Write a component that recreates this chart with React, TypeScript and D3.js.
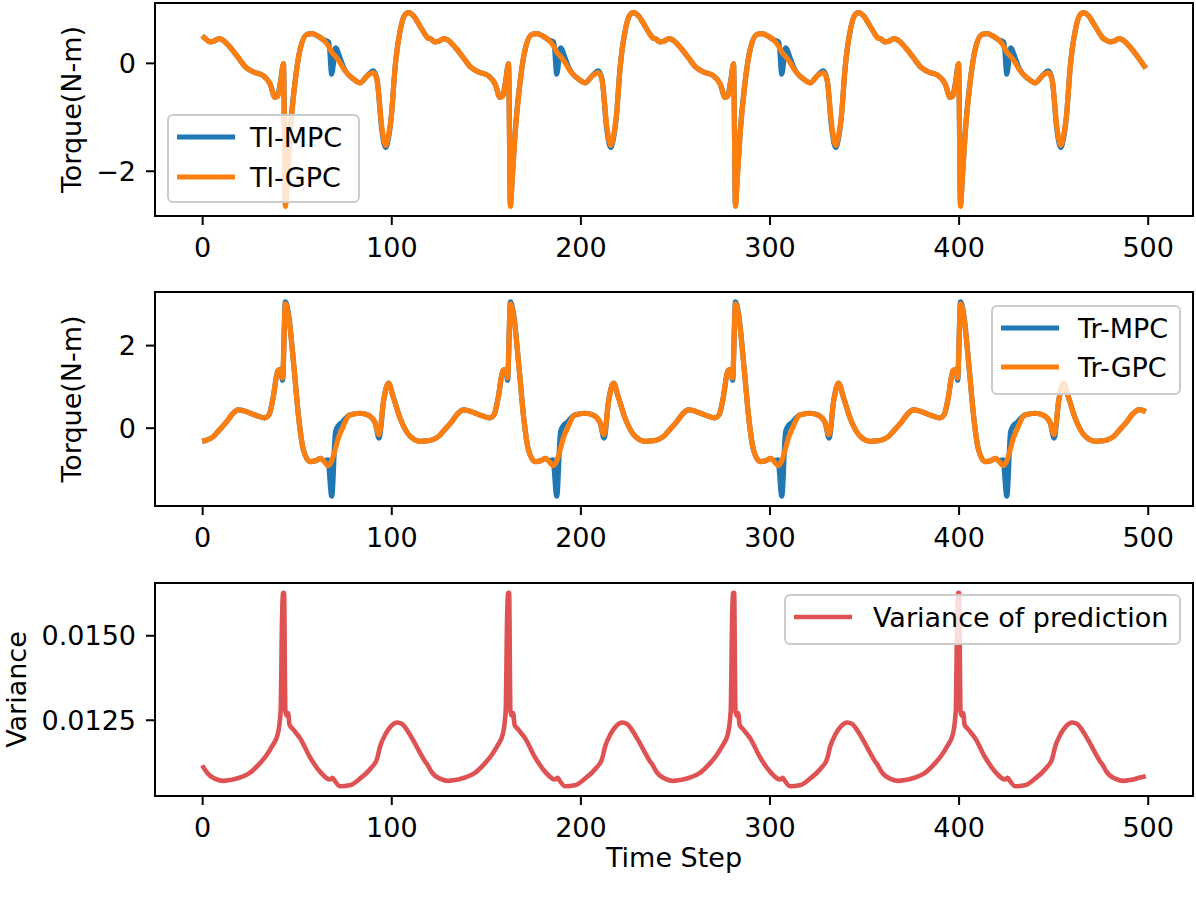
import React, { useEffect, useRef } from 'react'
import * as d3 from 'd3'

// Time steps shared by the two top-panel series
const tlSteps = [
  0, 2, 4, 6, 9, 11, 15, 19, 23, 28, 32, 36, 38.5, 40, 41.5, 43, 44, 45, 46.5, 49, 52, 55.5, 58, 61, 64, 67, 68.5, 70.5, 73, 75, 80, 83.5, 87, 90.5, 92.5, 95, 97, 98.5, 100, 102, 105, 107, 109, 112, 114, 118,
  119, 121, 123, 125, 128, 130, 134, 138, 142, 147, 151, 155, 157.5, 159, 160.5, 162, 163, 164, 165.5, 168, 171, 174.5, 177, 180, 183, 186, 187.5, 189.5, 192, 194, 199, 202.5, 206, 209.5, 211.5, 214, 216, 217.5, 219, 221, 224, 226, 228, 231, 233, 237,
  238, 240, 242, 244, 247, 249, 253, 257, 261, 266, 270, 274, 276.5, 278, 279.5, 281, 282, 283, 284.5, 287, 290, 293.5, 296, 299, 302, 305, 306.5, 308.5, 311, 313, 318, 321.5, 325, 328.5, 330.5, 333, 335, 336.5, 338, 340, 343, 345, 347, 350, 352, 356,
  357, 359, 361, 363, 366, 368, 372, 376, 380, 385, 389, 393, 395.5, 397, 398.5, 400, 401, 402, 403.5, 406, 409, 412.5, 415, 418, 421, 424, 425.5, 427.5, 430, 432, 437, 440.5, 444, 447.5, 449.5, 452, 454, 455.5, 457, 459, 462, 464, 466, 469, 471, 475,
  476, 478, 480, 482, 485, 487, 491, 495, 499,
]

const tlMpc = [
  0.50, 0.44, 0.39, 0.40, 0.45, 0.42, 0.28, 0.10, -0.08, -0.18, -0.23, -0.40, -0.64, -0.60, -0.33, -0.02, -2.62, -2.10, -1.28, -0.38, 0.28, 0.53, 0.54, 0.50, 0.43, 0.38, -0.21, 0.28, 0.08, -0.10, -0.30, -0.37, -0.25, -0.15, -0.32, -1.25, -1.57, -1.40, -1.00, -0.09, 0.65, 0.88, 0.93, 0.86, 0.75, 0.52,
  0.47, 0.44, 0.39, 0.40, 0.45, 0.42, 0.28, 0.10, -0.08, -0.18, -0.23, -0.40, -0.64, -0.60, -0.33, -0.02, -2.62, -2.10, -1.28, -0.38, 0.28, 0.53, 0.54, 0.50, 0.43, 0.38, -0.21, 0.28, 0.08, -0.10, -0.30, -0.37, -0.25, -0.15, -0.32, -1.25, -1.57, -1.40, -1.00, -0.09, 0.65, 0.88, 0.93, 0.86, 0.75, 0.52,
  0.47, 0.44, 0.39, 0.40, 0.45, 0.42, 0.28, 0.10, -0.08, -0.18, -0.23, -0.40, -0.64, -0.60, -0.33, -0.02, -2.62, -2.10, -1.28, -0.38, 0.28, 0.53, 0.54, 0.50, 0.43, 0.38, -0.21, 0.28, 0.08, -0.10, -0.30, -0.37, -0.25, -0.15, -0.32, -1.25, -1.57, -1.40, -1.00, -0.09, 0.65, 0.88, 0.93, 0.86, 0.75, 0.52,
  0.47, 0.44, 0.39, 0.40, 0.45, 0.42, 0.28, 0.10, -0.08, -0.18, -0.23, -0.40, -0.64, -0.60, -0.33, -0.02, -2.62, -2.10, -1.28, -0.38, 0.28, 0.53, 0.54, 0.50, 0.43, 0.38, -0.21, 0.28, 0.08, -0.10, -0.30, -0.37, -0.25, -0.15, -0.32, -1.25, -1.57, -1.40, -1.00, -0.09, 0.65, 0.88, 0.93, 0.86, 0.75, 0.52,
  0.47, 0.42, 0.39, 0.40, 0.45, 0.42, 0.28, 0.10, -0.10,
]

const tlGpc = [
  0.50, 0.44, 0.39, 0.40, 0.45, 0.42, 0.28, 0.10, -0.08, -0.18, -0.23, -0.40, -0.64, -0.62, -0.35, -0.02, -2.66, -2.15, -1.31, -0.39, 0.28, 0.53, 0.54, 0.50, 0.43, 0.30, 0.20, 0.12, 0.00, -0.12, -0.30, -0.37, -0.25, -0.18, -0.33, -1.19, -1.53, -1.35, -1.00, -0.09, 0.65, 0.88, 0.93, 0.86, 0.75, 0.52,
  0.47, 0.44, 0.39, 0.40, 0.45, 0.42, 0.28, 0.10, -0.08, -0.18, -0.23, -0.40, -0.64, -0.62, -0.35, -0.02, -2.66, -2.15, -1.31, -0.39, 0.28, 0.53, 0.54, 0.50, 0.43, 0.30, 0.20, 0.12, 0.00, -0.12, -0.30, -0.37, -0.25, -0.18, -0.33, -1.19, -1.53, -1.35, -1.00, -0.09, 0.65, 0.88, 0.93, 0.86, 0.75, 0.52,
  0.47, 0.44, 0.39, 0.40, 0.45, 0.42, 0.28, 0.10, -0.08, -0.18, -0.23, -0.40, -0.64, -0.62, -0.35, -0.02, -2.66, -2.15, -1.31, -0.39, 0.28, 0.53, 0.54, 0.50, 0.43, 0.30, 0.20, 0.12, 0.00, -0.12, -0.30, -0.37, -0.25, -0.18, -0.33, -1.19, -1.53, -1.35, -1.00, -0.09, 0.65, 0.88, 0.93, 0.86, 0.75, 0.52,
  0.47, 0.44, 0.39, 0.40, 0.45, 0.42, 0.28, 0.10, -0.08, -0.18, -0.23, -0.40, -0.64, -0.62, -0.35, -0.02, -2.66, -2.15, -1.31, -0.39, 0.28, 0.53, 0.54, 0.50, 0.43, 0.30, 0.20, 0.12, 0.00, -0.12, -0.30, -0.37, -0.25, -0.18, -0.33, -1.19, -1.53, -1.35, -1.00, -0.09, 0.65, 0.88, 0.93, 0.86, 0.75, 0.52,
  0.47, 0.42, 0.39, 0.40, 0.45, 0.42, 0.28, 0.10, -0.10,
]

// Middle panel
const trSteps = [
  0, 3, 6, 9, 13, 16, 19, 22, 25.5, 29, 33, 35.5, 37.5, 40, 41.5, 42.5, 44, 45.5, 48.5, 51, 53.5, 57, 60, 62.5, 64.5, 66.5, 68.5, 70.5, 72, 74, 78, 83.5, 88, 91.5, 93.5, 96, 98.5, 101, 105, 110, 115.5, 118,
  119, 122, 125, 128, 132, 135, 138, 141, 144.5, 148, 152, 154.5, 156.5, 159, 160.5, 161.5, 163, 164.5, 167.5, 170, 172.5, 176, 179, 181.5, 183.5, 185.5, 187.5, 189.5, 191, 193, 197, 202.5, 207, 210.5, 212.5, 215, 217.5, 220, 224, 229, 234.5, 237,
  238, 241, 244, 247, 251, 254, 257, 260, 263.5, 267, 271, 273.5, 275.5, 278, 279.5, 280.5, 282, 283.5, 286.5, 289, 291.5, 295, 298, 300.5, 302.5, 304.5, 306.5, 308.5, 310, 312, 316, 321.5, 326, 329.5, 331.5, 334, 336.5, 339, 343, 348, 353.5, 356,
  357, 360, 363, 366, 370, 373, 376, 379, 382.5, 386, 390, 392.5, 394.5, 397, 398.5, 399.5, 401, 402.5, 405.5, 408, 410.5, 414, 417, 419.5, 421.5, 423.5, 425.5, 427.5, 429, 431, 435, 440.5, 445, 448.5, 450.5, 453, 455.5, 458, 462, 467, 472.5, 475,
  476, 479, 482, 485, 489, 492, 495.5, 499,
]

const trMpc = [
  -0.33, -0.29, -0.21, -0.06, 0.15, 0.33, 0.43, 0.41, 0.35, 0.29, 0.24, 0.33, 0.72, 1.38, 1.41, 1.15, 3.05, 2.80, 1.48, 0.25, -0.53, -0.82, -0.80, -0.74, -0.80, -0.78, -1.66, -0.10, 0.05, 0.13, 0.31, 0.35, 0.30, 0.11, -0.25, 0.67, 1.08, 0.75, 0.19, -0.21, -0.33, -0.32,
  -0.32, -0.29, -0.21, -0.06, 0.15, 0.33, 0.43, 0.41, 0.35, 0.29, 0.24, 0.33, 0.72, 1.38, 1.41, 1.15, 3.05, 2.80, 1.48, 0.25, -0.53, -0.82, -0.80, -0.74, -0.80, -0.78, -1.66, -0.10, 0.05, 0.13, 0.31, 0.35, 0.30, 0.11, -0.25, 0.67, 1.08, 0.75, 0.19, -0.21, -0.33, -0.32,
  -0.32, -0.29, -0.21, -0.06, 0.15, 0.33, 0.43, 0.41, 0.35, 0.29, 0.24, 0.33, 0.72, 1.38, 1.41, 1.15, 3.05, 2.80, 1.48, 0.25, -0.53, -0.82, -0.80, -0.74, -0.80, -0.78, -1.66, -0.10, 0.05, 0.13, 0.31, 0.35, 0.30, 0.11, -0.25, 0.67, 1.08, 0.75, 0.19, -0.21, -0.33, -0.32,
  -0.32, -0.29, -0.21, -0.06, 0.15, 0.33, 0.43, 0.41, 0.35, 0.29, 0.24, 0.33, 0.72, 1.38, 1.41, 1.15, 3.05, 2.80, 1.48, 0.25, -0.53, -0.82, -0.80, -0.74, -0.80, -0.78, -1.66, -0.10, 0.05, 0.13, 0.31, 0.35, 0.30, 0.11, -0.25, 0.67, 1.08, 0.75, 0.19, -0.21, -0.33, -0.32,
  -0.32, -0.29, -0.21, -0.06, 0.15, 0.33, 0.44, 0.39,
]

const trGpc = [
  -0.33, -0.29, -0.21, -0.06, 0.15, 0.33, 0.43, 0.41, 0.35, 0.29, 0.24, 0.33, 0.72, 1.38, 1.41, 1.20, 3.00, 2.76, 1.48, 0.25, -0.53, -0.82, -0.80, -0.74, -0.82, -0.92, -0.80, -0.50, -0.25, -0.03, 0.31, 0.35, 0.30, 0.11, -0.17, 0.67, 1.08, 0.75, 0.19, -0.21, -0.33, -0.32,
  -0.32, -0.29, -0.21, -0.06, 0.15, 0.33, 0.43, 0.41, 0.35, 0.29, 0.24, 0.33, 0.72, 1.38, 1.41, 1.20, 3.00, 2.76, 1.48, 0.25, -0.53, -0.82, -0.80, -0.74, -0.82, -0.92, -0.80, -0.50, -0.25, -0.03, 0.31, 0.35, 0.30, 0.11, -0.17, 0.67, 1.08, 0.75, 0.19, -0.21, -0.33, -0.32,
  -0.32, -0.29, -0.21, -0.06, 0.15, 0.33, 0.43, 0.41, 0.35, 0.29, 0.24, 0.33, 0.72, 1.38, 1.41, 1.20, 3.00, 2.76, 1.48, 0.25, -0.53, -0.82, -0.80, -0.74, -0.82, -0.92, -0.80, -0.50, -0.25, -0.03, 0.31, 0.35, 0.30, 0.11, -0.17, 0.67, 1.08, 0.75, 0.19, -0.21, -0.33, -0.32,
  -0.32, -0.29, -0.21, -0.06, 0.15, 0.33, 0.43, 0.41, 0.35, 0.29, 0.24, 0.33, 0.72, 1.38, 1.41, 1.20, 3.00, 2.76, 1.48, 0.25, -0.53, -0.82, -0.80, -0.74, -0.82, -0.92, -0.80, -0.50, -0.25, -0.03, 0.31, 0.35, 0.30, 0.11, -0.17, 0.67, 1.08, 0.75, 0.19, -0.21, -0.33, -0.32,
  -0.32, -0.29, -0.21, -0.06, 0.15, 0.33, 0.44, 0.39,
]

// Bottom panel
const varSteps = [
  0, 2, 4, 7, 11, 15, 20, 25, 30, 34, 37, 40, 41.5, 42.5, 43.3, 44, 44.8, 45.4, 46.2, 48, 52, 57, 62.5, 67.5, 69, 70, 73, 78, 83.5, 89, 92.5, 94, 97, 100, 103, 105.5, 108.5, 112, 115.5, 118,
  119, 121, 123, 126, 130, 134, 139, 144, 149, 153, 156, 159, 160.5, 161.5, 162.3, 163, 163.8, 164.4, 165.2, 167, 171, 176, 181.5, 186.5, 188, 189, 192, 197, 202.5, 208, 211.5, 213, 216, 219, 222, 224.5, 227.5, 231, 234.5, 237,
  238, 240, 242, 245, 249, 253, 258, 263, 268, 272, 275, 278, 279.5, 280.5, 281.3, 282, 282.8, 283.4, 284.2, 286, 290, 295, 300.5, 305.5, 307, 308, 311, 316, 321.5, 327, 330.5, 332, 335, 338, 341, 343.5, 346.5, 350, 353.5, 356,
  357, 359, 361, 364, 368, 372, 377, 382, 387, 391, 394, 397, 398.5, 399.5, 400.3, 401, 401.8, 402.4, 403.2, 405, 409, 414, 419.5, 424.5, 426, 427, 430, 435, 440.5, 446, 449.5, 451, 454, 457, 460, 462.5, 465.5, 469, 472.5, 475,
  476, 478, 480, 483, 487, 491, 496, 499,
]

const variance = [
  0.01115, 0.01098, 0.01085, 0.01075, 0.01069, 0.01072, 0.01079, 0.01092, 0.01118, 0.01145, 0.01172, 0.01208, 0.01276, 0.01624, 0.01626, 0.01275, 0.01262, 0.01270, 0.01235, 0.01222, 0.01193, 0.01139, 0.01095, 0.01073, 0.01078, 0.01070, 0.01053, 0.01056, 0.01076, 0.01105, 0.01135, 0.01169, 0.01208, 0.01232, 0.01242, 0.01238, 0.01218, 0.01185, 0.01149, 0.01125,
  0.01118, 0.01098, 0.01085, 0.01075, 0.01069, 0.01072, 0.01079, 0.01092, 0.01118, 0.01145, 0.01172, 0.01208, 0.01276, 0.01624, 0.01626, 0.01275, 0.01262, 0.01270, 0.01235, 0.01222, 0.01193, 0.01139, 0.01095, 0.01073, 0.01078, 0.01070, 0.01053, 0.01056, 0.01076, 0.01105, 0.01135, 0.01169, 0.01208, 0.01232, 0.01242, 0.01238, 0.01218, 0.01185, 0.01149, 0.01125,
  0.01118, 0.01098, 0.01085, 0.01075, 0.01069, 0.01072, 0.01079, 0.01092, 0.01118, 0.01145, 0.01172, 0.01208, 0.01276, 0.01624, 0.01626, 0.01275, 0.01262, 0.01270, 0.01235, 0.01222, 0.01193, 0.01139, 0.01095, 0.01073, 0.01078, 0.01070, 0.01053, 0.01056, 0.01076, 0.01105, 0.01135, 0.01169, 0.01208, 0.01232, 0.01242, 0.01238, 0.01218, 0.01185, 0.01149, 0.01125,
  0.01118, 0.01098, 0.01085, 0.01075, 0.01069, 0.01072, 0.01079, 0.01092, 0.01118, 0.01145, 0.01172, 0.01208, 0.01276, 0.01624, 0.01626, 0.01275, 0.01262, 0.01270, 0.01235, 0.01222, 0.01193, 0.01139, 0.01095, 0.01073, 0.01078, 0.01070, 0.01053, 0.01056, 0.01076, 0.01105, 0.01135, 0.01169, 0.01208, 0.01232, 0.01242, 0.01238, 0.01218, 0.01185, 0.01149, 0.01125,
  0.01118, 0.01098, 0.01085, 0.01075, 0.01069, 0.01072, 0.01079, 0.01083,
]

const xTicks = [0, 100, 200, 300, 400, 500]
const tlTicks = [-2, 0]
const trTicks = [0, 2]
const varTicks = [0.0125, 0.015]

const FONT = "'DejaVu Sans', sans-serif"
const FS = 27
const LEFT = 155
const RIGHT = 1193

interface Series { label: string; x: number[]; y: number[]; color: string; width: number; opacity: number }
interface Legend { x: number; y: number; w: number; h: number; handleX: number; textX: number; rows: number[] }
interface Panel {
  top: number
  bottom: number
  yTicks: number[]
  yFormat: (d: number) => string
  yLabel: string
  yLabelX: number
  series: Series[]
  legend: Legend
}

const panels: Panel[] = [
  {
    top: 3, bottom: 216, yTicks: tlTicks, yFormat: d3.format('d'), yLabel: 'Torque(N-m)', yLabelX: 81,
    series: [
      { label: 'Tl-MPC', x: tlSteps, y: tlMpc, color: '#1f77b4', width: 5.2, opacity: 1 },
      { label: 'Tl-GPC', x: tlSteps, y: tlGpc, color: '#ff7f0e', width: 5.2, opacity: 1 },
    ],
    legend: { x: 168, y: 115, w: 191, h: 87, handleX: 177, textX: 250, rows: [137, 177] },
  },
  {
    top: 292, bottom: 506, yTicks: trTicks, yFormat: d3.format('d'), yLabel: 'Torque(N-m)', yLabelX: 81,
    series: [
      { label: 'Tr-MPC', x: trSteps, y: trMpc, color: '#1f77b4', width: 5.2, opacity: 1 },
      { label: 'Tr-GPC', x: trSteps, y: trGpc, color: '#ff7f0e', width: 5.2, opacity: 1 },
    ],
    legend: { x: 992, y: 306, w: 188, h: 88, handleX: 1001, textX: 1078, rows: [328, 367] },
  },
  {
    top: 583, bottom: 796, yTicks: varTicks, yFormat: d3.format('.4f'), yLabel: 'Variance', yLabelX: 26,
    series: [
      { label: 'Variance of prediction', x: varSteps, y: variance, color: '#d62728', width: 4.6, opacity: 0.8 },
    ],
    legend: { x: 785, y: 595, w: 395, h: 49, handleX: 794, textX: 873, rows: [617] },
  },
]

export default function App() {
  const svgRef = useRef<SVGSVGElement>(null)

  useEffect(() => {
    if (!svgRef.current) return
    const svg = d3.select(svgRef.current)
    svg.selectAll('*').remove()

    const x = d3.scaleLinear().domain([-24.95, 523.95]).range([LEFT, RIGHT])

    panels.forEach(p => {
      // y range with matplotlib's 5% margins
      const all = p.series.flatMap(s => s.y)
      const [lo, hi] = d3.extent(all) as [number, number]
      const pad = (hi - lo) * 0.05
      const y = d3.scaleLinear().domain([lo - pad, hi + pad]).range([p.bottom, p.top])

      const g = svg.append('g')

      // Lines
      p.series.forEach(s => {
        const line = d3.line<number>()
          .x((_, i) => x(s.x[i]))
          .y(d => y(d))
          .curve(d3.curveMonotoneX)
        g.append('path')
          .datum(s.y)
          .attr('fill', 'none')
          .attr('stroke', s.color)
          .attr('stroke-opacity', s.opacity)
          .attr('stroke-width', s.width)
          .attr('stroke-linejoin', 'round')
          .attr('d', line)
      })

      // Frame
      g.append('rect')
        .attr('x', LEFT)
        .attr('y', p.top)
        .attr('width', RIGHT - LEFT)
        .attr('height', p.bottom - p.top)
        .attr('fill', 'none')
        .attr('stroke', '#000')
        .attr('stroke-width', 2)

      // Axes
      const gx = g.append('g')
        .attr('transform', `translate(0,${p.bottom})`)
        .call(d3.axisBottom(x).tickValues(xTicks).tickSize(9).tickPadding(13).tickFormat(d3.format('d')))
      gx.select('.domain').remove()
      gx.attr('font-size', FS).attr('font-family', FONT)
      gx.selectAll('line').attr('stroke', '#000').attr('stroke-width', 2)
      gx.selectAll('text').attr('fill', '#000')

      const gy = g.append('g')
        .attr('transform', `translate(${LEFT},0)`)
        .call(d3.axisLeft(y).tickValues(p.yTicks).tickSize(9).tickPadding(10).tickFormat(d => p.yFormat(d as number)))
      gy.select('.domain').remove()
      gy.attr('font-size', FS).attr('font-family', FONT)
      gy.selectAll('line').attr('stroke', '#000').attr('stroke-width', 2)
      gy.selectAll('text').attr('fill', '#000').attr('dy', '0.36em')

      // Y label
      g.append('text')
        .attr('transform', `translate(${p.yLabelX},${(p.top + p.bottom) / 2}) rotate(-90)`)
        .attr('text-anchor', 'middle')
        .attr('font-family', FONT)
        .attr('font-size', FS)
        .text(p.yLabel)

      // Legend
      const L = p.legend
      g.append('rect')
        .attr('x', L.x)
        .attr('y', L.y)
        .attr('width', L.w)
        .attr('height', L.h)
        .attr('rx', 5)
        .attr('fill', '#fff')
        .attr('fill-opacity', 0.8)
        .attr('stroke', '#cccccc')
        .attr('stroke-width', 2)
      p.series.forEach((s, i) => {
        g.append('line')
          .attr('x1', L.handleX)
          .attr('x2', L.handleX + 58)
          .attr('y1', L.rows[i])
          .attr('y2', L.rows[i])
          .attr('stroke', s.color)
          .attr('stroke-opacity', s.opacity)
          .attr('stroke-width', s.width)
        g.append('text')
          .attr('x', L.textX)
          .attr('y', L.rows[i] + 10)
          .attr('font-family', FONT)
          .attr('font-size', FS)
          .text(s.label)
      })
    })

    // Shared x label
    svg.append('text')
      .attr('x', (LEFT + RIGHT) / 2)
      .attr('y', 867)
      .attr('text-anchor', 'middle')
      .attr('font-family', FONT)
      .attr('font-size', FS)
      .text('Time Step')
  }, [])

  return (
    <svg
      ref={svgRef}
      width={1196}
      height={900}
      style={{ position: 'absolute', left: 0, top: 0, background: '#fff' }}
    />
  )
}
